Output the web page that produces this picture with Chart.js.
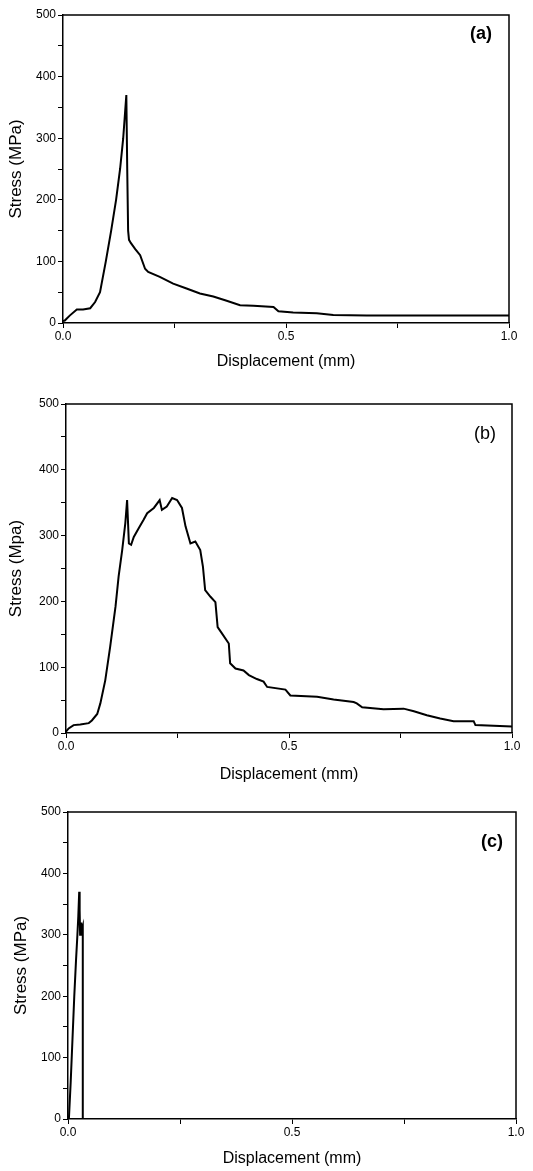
<!DOCTYPE html>
<html>
<head>
<meta charset="utf-8">
<script src="https://cdn.jsdelivr.net/npm/chart.js@4.4.0/dist/chart.umd.min.js"></script>
<style>
  html, body { margin: 0; padding: 0; background: #fff; }
  #wrap { position: relative; width: 533px; height: 1171px; overflow: hidden; }
  canvas { position: absolute; left: 0; }
</style>
</head>
<body>
<div id="wrap">
  <canvas id="chartA"></canvas>
  <canvas id="chartB"></canvas>
  <canvas id="chartC"></canvas>
</div>
<script>
// (a) stress vs displacement
const dispA = [0, 0.004, 0.015, 0.031, 0.045, 0.061, 0.072, 0.083, 0.096, 0.108,
  0.119, 0.128, 0.135, 0.139, 0.142, 0.144, 0.146, 0.148, 0.152, 0.162,
  0.173, 0.184, 0.191, 0.217, 0.247, 0.277, 0.307, 0.337, 0.367, 0.397,
  0.427, 0.472, 0.483, 0.516, 0.569, 0.606, 0.681, 0.830, 1.0];
const stressA = [3, 4, 12, 22, 22, 24, 34, 50, 100, 150,
  200, 250, 300, 340, 370, 250, 150, 135, 130, 120,
  110, 88, 83, 75, 64, 56, 48, 43, 36, 29,
  28, 26, 19, 17, 16, 13, 12, 12, 12];

// (b)
const dispB = [0, 0.006, 0.017, 0.032, 0.051, 0.058, 0.070, 0.077, 0.088, 0.099,
  0.111, 0.118, 0.126, 0.133, 0.137, 0.141, 0.146, 0.152, 0.163, 0.174,
  0.182, 0.197, 0.210, 0.215, 0.226, 0.238, 0.249, 0.260, 0.268, 0.279,
  0.290, 0.301, 0.307, 0.312, 0.324, 0.335, 0.340, 0.350, 0.365, 0.368,
  0.380, 0.398, 0.410, 0.428, 0.443, 0.451, 0.492, 0.503, 0.563, 0.600,
  0.645, 0.652, 0.664, 0.712, 0.757, 0.780, 0.809, 0.839, 0.869, 0.914,
  0.918, 1.0];
const stressB = [2, 7, 12, 13, 15, 19, 29, 45, 80, 131,
  192, 238, 278, 319, 354, 288, 286, 298, 311, 324,
  334, 342, 354, 339, 344, 357, 354, 342, 314, 288,
  291, 278, 253, 217, 207, 199, 161, 151, 136, 106,
  98, 95, 88, 82, 78, 70, 66, 57, 55, 51,
  47, 45, 39, 36, 37, 33, 27, 22, 18, 18,
  12, 10];

// (c)
const dispC = [0.002, 0.006, 0.010, 0.014, 0.018, 0.021, 0.023, 0.025, 0.026, 0.027, 0.029, 0.031, 0.033, 0.033];
const stressC = [0, 60, 130, 200, 260, 300, 330, 370, 340, 300, 320, 310, 315, 0];

// axis ticks
const yMajor = [0, 100, 200, 300, 400, 500];
const xMajor = [0, 0.5, 1.0];

const FONT = '"Liberation Sans", Arial, sans-serif';

// page geometry of each panel (plot box + title centres)
const panels = [
  { id: 'chartA', top: 0,   height: 380, left: 63, right: 509, boxTop: 15,  boxBottom: 323,  xTitleY: 362,  yTitleX: 16,
    xs: dispA, ys: stressA, yLabel: 'Stress (MPa)', tag: '(a)', tagBold: true,  tagX: 481, tagY: 34 },
  { id: 'chartB', top: 380, height: 405, left: 66, right: 512, boxTop: 404, boxBottom: 733,  xTitleY: 775,  yTitleX: 16,
    xs: dispB, ys: stressB, yLabel: 'Stress (Mpa)', tag: '(b)', tagBold: false, tagX: 485, tagY: 434 },
  { id: 'chartC', top: 780, height: 391, left: 68, right: 516, boxTop: 812, boxBottom: 1119, xTitleY: 1159, yTitleX: 21,
    xs: dispC, ys: stressC, yLabel: 'Stress (MPa)', tag: '(c)', tagBold: true,  tagX: 492, tagY: 842 }
];

const frame = {
  id: 'frame',
  afterDraw(chart, args, opts) {
    const { ctx, chartArea: a } = chart;
    ctx.save();
    ctx.strokeStyle = '#000';
    ctx.lineWidth = 1.5;
    ctx.beginPath();
    ctx.moveTo(a.left, a.top);
    ctx.lineTo(a.right, a.top);
    ctx.lineTo(a.right, a.bottom);
    ctx.stroke();
    ctx.fillStyle = '#000';
    ctx.font = (opts.bold ? 'bold ' : '') + '18px ' + FONT;
    ctx.textAlign = 'center';
    ctx.textBaseline = 'middle';
    ctx.fillText(opts.tag, opts.x, opts.y);
    ctx.restore();
  }
};

panels.forEach(p => {
  const cv = document.getElementById(p.id);
  cv.width = 533;
  cv.height = p.height;
  cv.style.top = p.top + 'px';

  const xAxisH = p.height - (p.boxBottom - p.top);
  const xTitleLH = 16 * 1.2;
  const yTitleLH = 17 * 1.2;

  new Chart(cv.getContext('2d'), {
    type: 'line',
    data: {
      datasets: [{
        data: p.xs.map((x, i) => ({ x: x, y: p.ys[i] })),
        borderColor: '#000',
        borderWidth: 2,
        pointRadius: 0,
        tension: 0,
        fill: false
      }]
    },
    options: {
      responsive: false,
      animation: false,
      devicePixelRatio: 1,
      layout: { padding: { top: p.boxTop - p.top, right: 533 - p.right, left: 0, bottom: 0 } },
      plugins: {
        legend: { display: false },
        tooltip: { enabled: false },
        frame: { tag: p.tag, bold: p.tagBold, x: p.tagX, y: p.tagY - p.top }
      },
      scales: {
        x: {
          type: 'linear',
          min: 0, max: 1,
          afterFit: s => { s.height = xAxisH; },
          border: { display: true, color: '#000', width: 1.5 },
          grid: { display: true, drawOnChartArea: false, drawTicks: true, tickLength: 5, color: '#000', lineWidth: 1 },
          ticks: {
            stepSize: 0.25,
            color: '#000',
            font: { family: FONT, size: 12 },
            maxRotation: 0,
            autoSkip: false,
            padding: 1,
            callback: v => xMajor.some(m => Math.abs(m - v) < 1e-6) ? v.toFixed(1) : ''
          },
          title: {
            display: true,
            text: 'Displacement (mm)',
            color: '#000',
            font: { family: FONT, size: 16 },
            padding: { top: 0, bottom: p.height - (p.xTitleY - p.top) - xTitleLH / 2 }
          }
        },
        y: {
          min: 0, max: 500,
          afterFit: s => { s.width = p.left; },
          border: { display: true, color: '#000', width: 1.5 },
          grid: { display: true, drawOnChartArea: false, drawTicks: true, tickLength: 5, color: '#000', lineWidth: 1 },
          ticks: {
            stepSize: 50,
            color: '#000',
            font: { family: FONT, size: 12 },
            autoSkip: false,
            padding: 2,
            callback: v => yMajor.includes(v) ? String(v) : ''
          },
          title: {
            display: true,
            text: p.yLabel,
            color: '#000',
            font: { family: FONT, size: 17 },
            padding: { top: p.yTitleX - yTitleLH / 2, bottom: 0 }
          }
        }
      }
    },
    plugins: [frame]
  });
});
</script>
</body>
</html>
